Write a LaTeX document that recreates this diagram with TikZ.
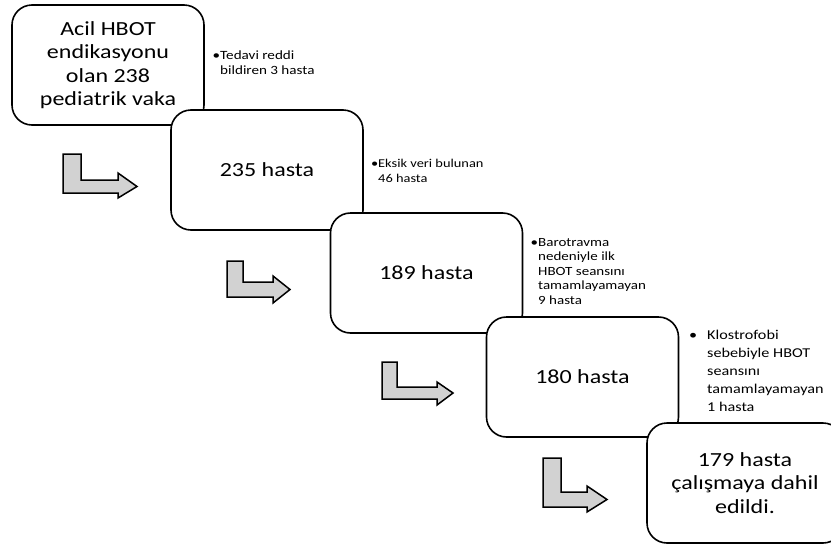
\documentclass[tikz,border=0pt]{standalone}
\usepackage{fontspec}
\setmainfont{Carlito}[FakeStretch=1.2]
\usepackage{tikz}
\usetikzlibrary{positioning}

\begin{document}
\begin{tikzpicture}[x=1pt, y=-1pt,
    align=center,
    stage/.style={rectangle, draw, line width=1.6pt, fill=white, rounded corners=20pt,
                  minimum width=192pt, minimum height=120pt, font=\fontsize{20}{23.5}\selectfont},
    note/.style={anchor=west, align=left, inner sep=0pt, font=\fontsize{12}{15}\selectfont},
    bent/.style={draw, line width=1.5pt, fill=gray!35, line join=miter}]
    \useasboundingbox (0,0) rectangle (831,544);
    \node[stage] (A) at (108,65) {Acil HBOT\\endikasyonu\\olan 238\\pediatrik vaka};
    \node[stage] (B) at (267,170) {235 hasta};
    \node[stage] (C) at (426.5,273) {189 hasta};
    \node[stage] (D) at (582.5,377) {180 hasta};
    \node[stage, minimum width=196pt] (E) at (745,483) {179 hasta\\çalışmaya dahil\\edildi.};
    % excluded patients
    \node[note, font=\fontsize{12.6}{15}\selectfont] (nA) at (220,62.5) {\llap{\textbullet}Tedavi reddi\\bildiren 3 hasta};
    \node[note] (nB) at (378,170.5) {\llap{\textbullet}Eksik veri bulunan\\46 hasta};
    \node[note, font=\fontsize{12.5}{14.5}\selectfont] (nC) at (538,271.5)
        {\llap{\textbullet}Barotravma\\nedeniyle ilk\\HBOT seansını\\tamamlayamayan\\9 hasta};
    \node[note, font=\fontsize{13.5}{18}\selectfont] (nD) at (707,371)
        {\llap{\textbullet\hspace{10pt}}Klostrofobi\\sebebiyle HBOT\\seansını\\tamamlayamayan\\1 hasta};
    % bent arrows
    \draw[bent] (63,154) -- (81,154) -- (81,180) -- (118,180) -- (118,173) -- (137,186.5)
        -- (118,198) -- (118,193) -- (63,193) -- cycle;
    \draw[bent] (227,261) -- (243,261) -- (243,282) -- (273,282) -- (273,276) -- (290,289.5)
        -- (273,303) -- (273,297) -- (227,297) -- cycle;
    \draw[bent] (382,362) -- (397,362) -- (397,387) -- (437,387) -- (437,382) -- (453,393)
        -- (437,405) -- (437,399) -- (382,399) -- cycle;
    \draw[bent] (543,458) -- (561,458) -- (561,492) -- (587,492) -- (587,486) -- (607,499.5)
        -- (587,512) -- (587,507) -- (543,507) -- cycle;
\end{tikzpicture}
\end{document}
